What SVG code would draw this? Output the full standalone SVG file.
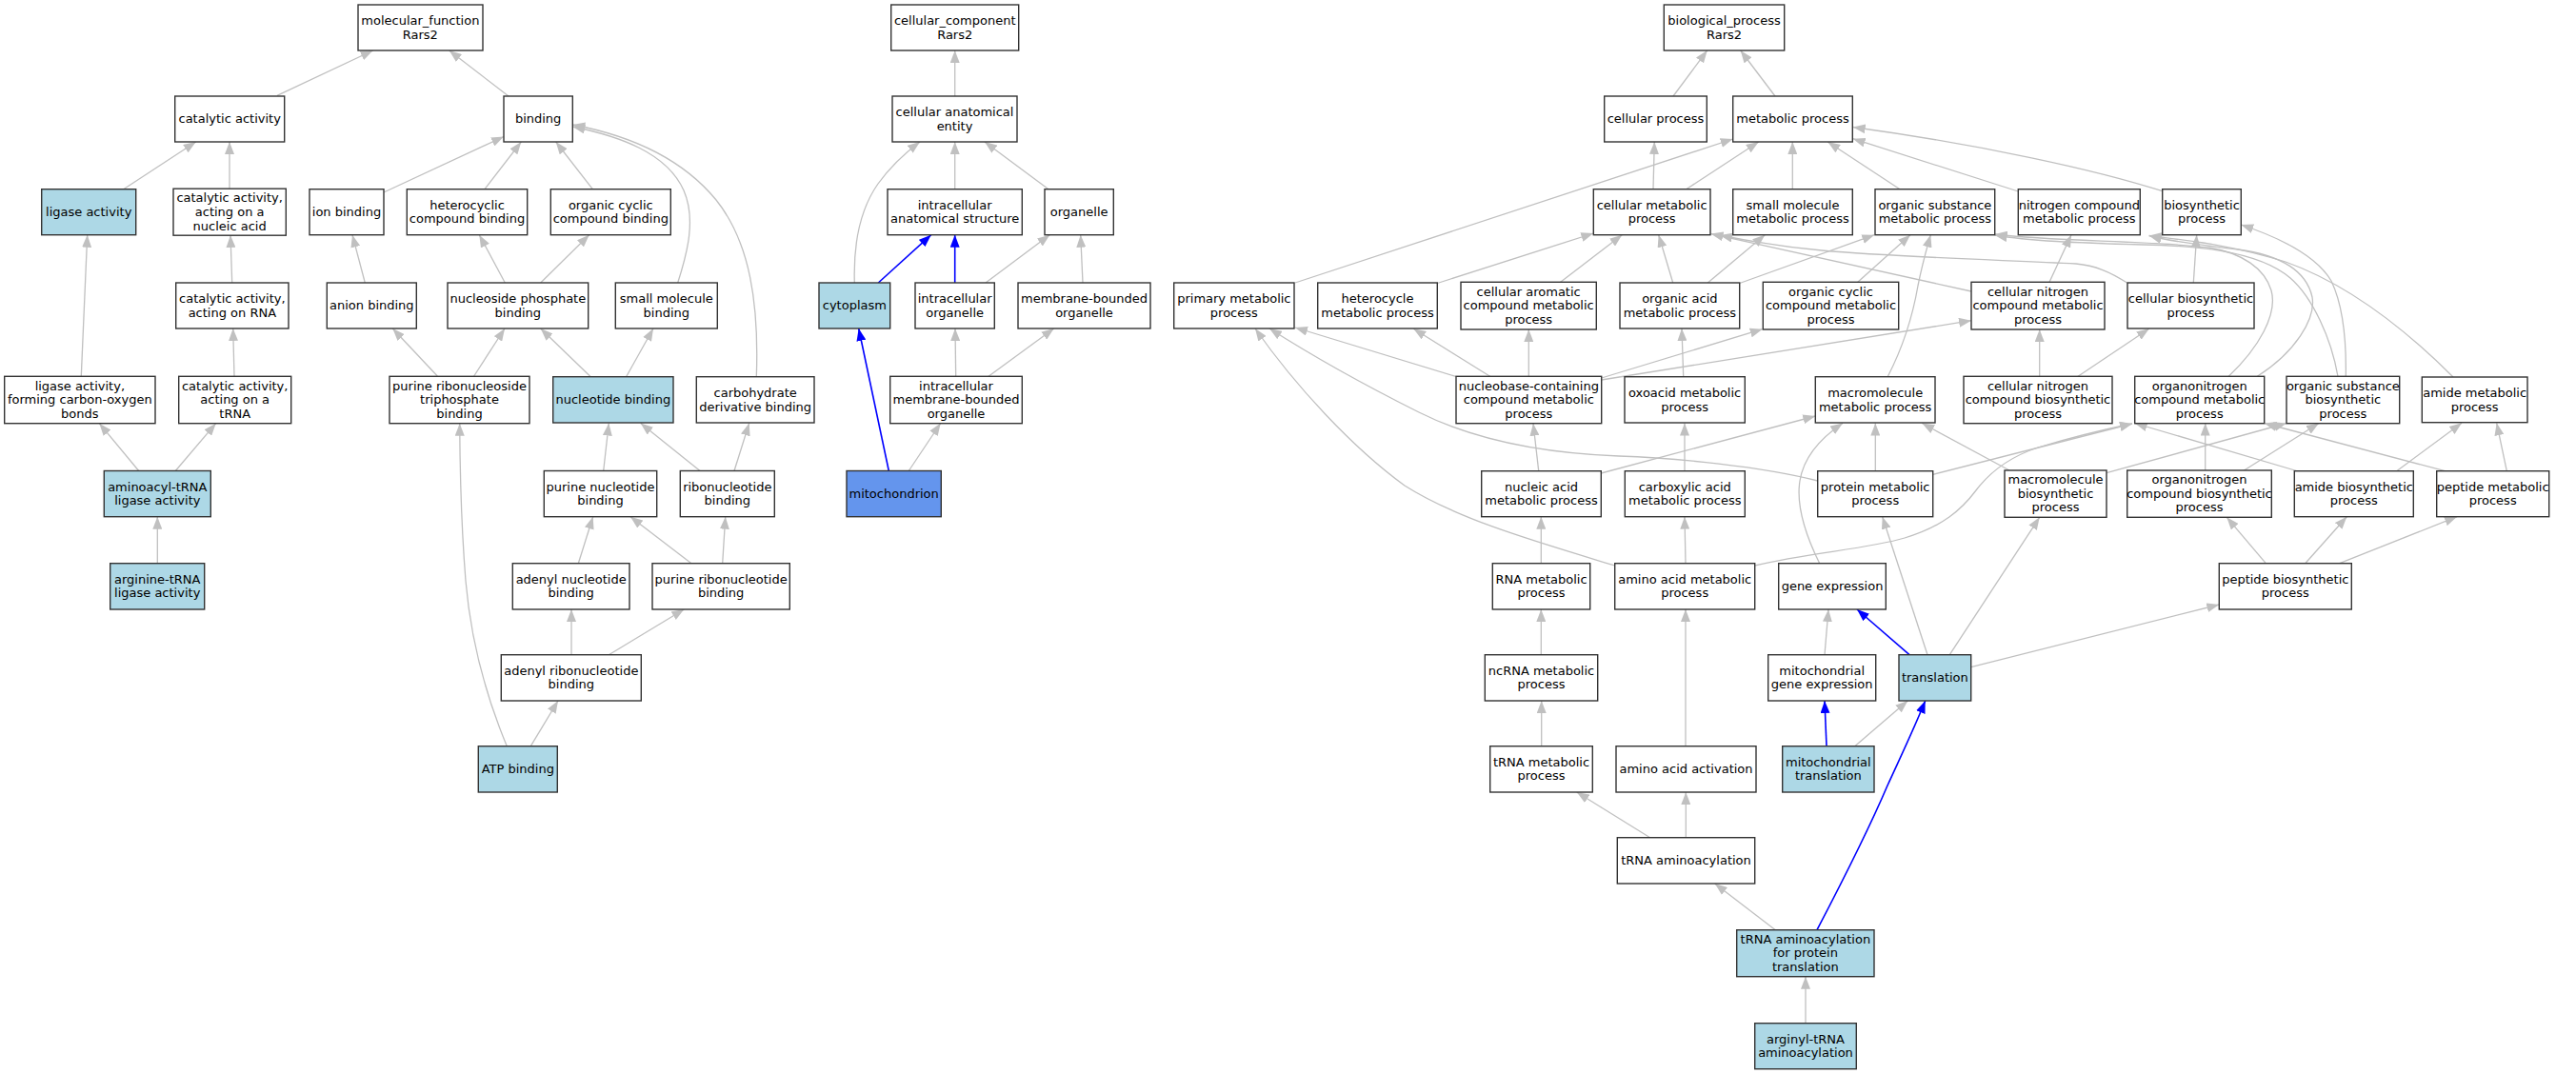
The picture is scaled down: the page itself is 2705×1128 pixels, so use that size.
<svg xmlns="http://www.w3.org/2000/svg" width="2705" height="1128" viewBox="0 0 2705 1128">
<style>
.bg{fill:#fff}
.n rect{fill:#fff;stroke:#333;stroke-width:1.4}
.b rect{fill:#add8e6}
.m rect{fill:#6495ed}
text{font-family:"DejaVu Sans","Liberation Sans",sans-serif;font-size:13px;text-anchor:middle;fill:#000}
.e path{fill:none;stroke:#c0c0c0;stroke-width:1.3;marker-end:url(#ag)}
.e path.bl{stroke:#0000ff;stroke-width:1.6;marker-end:url(#ab)}
</style>
<defs>
<marker id="ag" viewBox="0 0 13 10" refX="13" refY="5" markerWidth="13" markerHeight="10" markerUnits="userSpaceOnUse" orient="auto"><path d="M0,0 L13,5 L0,10 z" fill="#c0c0c0"/></marker>
<marker id="ab" viewBox="0 0 13 10" refX="13" refY="5" markerWidth="13" markerHeight="10" markerUnits="userSpaceOnUse" orient="auto"><path d="M0,0 L13,5 L0,10 z" fill="#0000ff"/></marker>
</defs>
<rect class="bg" x="0" y="0" width="2705" height="1128"/>
<g id="edges" class="e">
<path d="M291,100.3 L391.7,53"/>
<path d="M534,101 L471.7,53"/>
<path d="M129.7,198.7 L205.7,149"/>
<path d="M241,197.7 L241,149"/>
<path d="M403,202 L529,143.5"/>
<path d="M509,198.7 L547.3,149"/>
<path d="M622.3,198.7 L583.7,149"/>
<path d="M711.7,297 C722,265 731,230 718,200 C700,160 650,143 601.3,133"/>
<path d="M794.3,395.7 C797,320 788,255 752,210 C715,165 660,142 601.3,131"/>
<path d="M383.3,297 L370,246.7"/>
<path d="M243.7,297 L242,247"/>
<path d="M85.3,395 L91.7,246.7"/>
<path d="M246,395 L244.7,345"/>
<path d="M145.7,494.5 L104.3,444.7"/>
<path d="M184.3,494.5 L226.7,444.7"/>
<path d="M165.3,591.7 L165.3,542.7"/>
<path d="M530.3,297 L503.3,246.7"/>
<path d="M567.7,297 L618.7,246.7"/>
<path d="M459.3,395 L412.3,345"/>
<path d="M497.7,395 L530,345"/>
<path d="M620,395.5 L567.7,345"/>
<path d="M657.7,395.5 L686,345"/>
<path d="M633.7,494.5 L639.3,444.5"/>
<path d="M735,494.5 L672.7,444.5"/>
<path d="M771,494.5 L786.7,444.5"/>
<path d="M607.3,591.7 L622.7,542.7"/>
<path d="M726,591.7 L662,542.7"/>
<path d="M758.7,591.7 L761.7,542.7"/>
<path d="M600,687.7 L600,640"/>
<path d="M639.3,687.7 L718.3,640"/>
<path d="M557.3,783.7 L586,736"/>
<path d="M532.3,783.7 C512,735 495,680 489,610 C485,560 483,500 482.7,444.7"/>
<path d="M1002.7,101 L1002.7,53"/>
<path d="M1002.7,198.7 L1002.7,149"/>
<path d="M1101,198.7 L1034,149"/>
<path d="M897.3,297 C896,255 903,220 922,193 C935,175 950,161 966,149"/>
<path class="bl" d="M922.3,297 L977.7,246.7"/>
<path class="bl" d="M1002.7,297 L1002.7,246.7"/>
<path d="M1035,297 L1102.3,246.7"/>
<path d="M1137,297 L1134.7,246.7"/>
<path d="M1003.7,395.5 L1003,345"/>
<path d="M1037.7,395.5 L1106.7,345"/>
<path d="M954.3,494.5 L987.7,444.5"/>
<path class="bl" d="M933.3,494.5 L901.7,345"/>
<path d="M1757,101 L1792.7,53"/>
<path d="M1864,101 L1827.7,53"/>
<path d="M1736,198.7 L1737.3,149"/>
<path d="M1770.7,198.7 L1846.7,149"/>
<path d="M1882.3,198.7 L1882.3,149"/>
<path d="M1995,198.7 L1919.3,149"/>
<path d="M2119.3,201 L1945.7,145.7"/>
<path d="M2270.7,200.7 C2200,178 2080,152 1945.7,133.5"/>
<path d="M1360,297 L1819.7,146"/>
<path d="M1509.3,297.5 L1673.3,245"/>
<path d="M1637.7,297 L1703.3,246.7"/>
<path d="M1756.7,297 L1741.7,246.7"/>
<path d="M1793.3,297 L1853.3,246.7"/>
<path d="M1826.7,297.5 L1968.3,246.7"/>
<path d="M1950,297 L2006,246.7"/>
<path d="M2070,306 L1796.5,245.5"/>
<path d="M2151.7,297 L2175,246.7"/>
<path d="M2234,297.3 C2215,285 2200,279 2180,277 C2100,273 1990,270 1913,263 C1870,259 1835,253 1806,247"/>
<path d="M1529,395.5 L1360,344"/>
<path d="M1565,395.5 L1484.3,345.3"/>
<path d="M1605.3,395.5 L1605.3,346"/>
<path d="M1681.7,397 L1850.7,345.7"/>
<path d="M1681.7,399 L2070,336.7"/>
<path d="M1982.3,395.5 C1998,365 2008,335 2014,300 C2018,280 2022,265 2027.3,246.7"/>
<path d="M1908.7,505 C1850,490 1760,481 1700,479 C1620,476 1550,463 1490,433 C1440,408 1380,375 1333,345"/>
<path d="M1695.7,594 C1610,568 1530,545 1475,510 C1420,470 1360,405 1318,345"/>
<path d="M1615.7,494.5 L1610,444.7"/>
<path d="M1681.3,497 L1906.3,437"/>
<path d="M1618.3,591.7 L1618.3,542.7"/>
<path d="M1618.3,687.7 L1618.3,640"/>
<path d="M1618.7,783.7 L1618.7,736"/>
<path d="M1767.7,395.5 L1766,345"/>
<path d="M1769,494.5 L1769,444.5"/>
<path d="M1770,591.7 L1769,542.7"/>
<path d="M1770,783.7 L1770,640"/>
<path d="M1770.3,879.7 L1770.3,832"/>
<path d="M1732.7,879.7 L1655.7,832"/>
<path d="M1864.3,976.7 L1800.7,928"/>
<path class="bl" d="M1908,976.7 C1935,925 1962,872 1982,825 C1998,790 2010,765 2021.7,736"/>
<path d="M1896,1074.7 L1896,1025.7"/>
<path class="bl" d="M1918,783.7 L1916,736"/>
<path d="M1947.7,783.7 L2003.3,736"/>
<path class="bl" d="M2005,687.7 L1950,640"/>
<path d="M2024,687.7 L1976.7,542.7"/>
<path d="M2047.3,687.7 L2141.7,543.3"/>
<path d="M2069.7,700.7 L2330.3,635"/>
<path d="M1916,687.7 L1920,640"/>
<path d="M1910.7,591.7 C1895,560 1886,530 1890,505 C1894,480 1912,460 1935,444.5"/>
<path d="M1969.3,494.5 L1969.3,444.5"/>
<path d="M2110,494 L2018.3,444.5"/>
<path d="M2029.7,498.3 L2239,445"/>
<path d="M1842.7,594 C1900,580 1960,577 2000,565 C2040,553 2060,535 2075,515 C2090,495 2110,480 2140,470 C2180,458 2210,451 2239,445"/>
<path d="M2141.7,395.5 L2141.7,346"/>
<path d="M2181.7,395.5 L2256.7,345.3"/>
<path d="M2303.3,297 L2306.7,246.7"/>
<path d="M2463.3,395.5 C2464,355 2460,320 2448,295 C2432,268 2395,250 2353.3,236"/>
<path d="M2340,395.5 C2372,365 2392,330 2385,305 C2378,282 2355,266 2320,260 C2250,252 2160,254 2094.7,246"/>
<path d="M2370,395.5 C2410,370 2432,335 2428,312 C2422,285 2395,268 2350,262 C2310,257 2280,254 2256.7,247.5"/>
<path d="M2455,395.5 C2448,355 2428,312 2405,292 C2370,262 2300,258 2250,257 C2180,255 2130,253 2094.7,247"/>
<path d="M2576,396 C2530,350 2470,300 2400,275 C2340,256 2290,252 2256.7,247.5"/>
<path d="M2315.7,494.5 L2315.7,444.5"/>
<path d="M2355.7,494.5 L2435,444.5"/>
<path d="M2516.7,494.7 L2585,444.3"/>
<path d="M2420,497 L2241.7,444.5"/>
<path d="M2575,496.7 L2377.7,444.5"/>
<path d="M2632.3,494.7 L2621.7,444.3"/>
<path d="M2212,496.7 L2401,444.5"/>
<path d="M2379.3,591.7 L2338.3,543.3"/>
<path d="M2420.7,591.7 L2464.3,542.7"/>
<path d="M2456.7,591.7 L2580,542.7"/>
</g>
<g id="mf_root" class="n"><rect x="376" y="5" width="131" height="48"/><text x="441.35" y="25.9">molecular_function<tspan x="441.35" dy="14.67">Rars2</tspan></text></g>
<g id="catalytic" class="n"><rect x="183.7" y="101" width="115" height="48"/><text x="241.2" y="129.3">catalytic activity</text></g>
<g id="binding" class="n"><rect x="529" y="101" width="72.3" height="48"/><text x="565.15" y="129.3">binding</text></g>
<g id="ligase" class="n b"><rect x="43.7" y="198.7" width="99" height="48"/><text x="93.2" y="227">ligase activity</text></g>
<g id="cat_na" class="n"><rect x="182" y="198.2" width="118.3" height="49"/><text x="241.15" y="212.2">catalytic activity,<tspan x="241.15" dy="14.67">acting on a</tspan><tspan x="241.15" dy="14.67">nucleic acid</tspan></text></g>
<g id="ion" class="n"><rect x="325" y="198.7" width="78" height="48"/><text x="364" y="227">ion binding</text></g>
<g id="hetero_b" class="n"><rect x="427.3" y="198.7" width="126.4" height="48"/><text x="490.5" y="219.6">heterocyclic<tspan x="490.5" dy="14.67">compound binding</tspan></text></g>
<g id="orgcyc_b" class="n"><rect x="578.3" y="198.7" width="126" height="48"/><text x="641.3" y="219.6">organic cyclic<tspan x="641.3" dy="14.67">compound binding</tspan></text></g>
<g id="cat_rna" class="n"><rect x="184.7" y="297" width="118.3" height="48"/><text x="243.85" y="317.9">catalytic activity,<tspan x="243.85" dy="14.67">acting on RNA</tspan></text></g>
<g id="anion" class="n"><rect x="343.3" y="297" width="94" height="48"/><text x="390.3" y="325.3">anion binding</text></g>
<g id="nsp" class="n"><rect x="470" y="297" width="147.7" height="48"/><text x="543.85" y="317.9">nucleoside phosphate<tspan x="543.85" dy="14.67">binding</tspan></text></g>
<g id="smb" class="n"><rect x="646.3" y="297" width="107" height="48"/><text x="699.8" y="317.9">small molecule<tspan x="699.8" dy="14.67">binding</tspan></text></g>
<g id="lig_co" class="n"><rect x="4.7" y="395.3" width="158.3" height="49.4"/><text x="83.85" y="409.5">ligase activity,<tspan x="83.85" dy="14.67">forming carbon-oxygen</tspan><tspan x="83.85" dy="14.67">bonds</tspan></text></g>
<g id="cat_trna" class="n"><rect x="187.7" y="395.3" width="118" height="49.4"/><text x="246.7" y="409.5">catalytic activity,<tspan x="246.7" dy="14.67">acting on a</tspan><tspan x="246.7" dy="14.67">tRNA</tspan></text></g>
<g id="prtp" class="n"><rect x="409" y="395.3" width="147" height="49.4"/><text x="482.5" y="409.5">purine ribonucleoside<tspan x="482.5" dy="14.67">triphosphate</tspan><tspan x="482.5" dy="14.67">binding</tspan></text></g>
<g id="nucb" class="n b"><rect x="580.7" y="395.7" width="126.3" height="48.3"/><text x="643.85" y="424.3">nucleotide binding</text></g>
<g id="carb" class="n"><rect x="731.3" y="395.7" width="123.7" height="48.3"/><text x="793.15" y="416.9">carbohydrate<tspan x="793.15" dy="14.67">derivative binding</tspan></text></g>
<g id="aatrna" class="n b"><rect x="109.3" y="494.5" width="112" height="48.2"/><text x="165.3" y="515.5">aminoacyl-tRNA<tspan x="165.3" dy="14.67">ligase activity</tspan></text></g>
<g id="pnb" class="n"><rect x="571.3" y="494.5" width="118.4" height="48.2"/><text x="630.5" y="515.5">purine nucleotide<tspan x="630.5" dy="14.67">binding</tspan></text></g>
<g id="rnb" class="n"><rect x="714.3" y="494.5" width="99" height="48.2"/><text x="763.8" y="515.5">ribonucleotide<tspan x="763.8" dy="14.67">binding</tspan></text></g>
<g id="argtrna" class="n b"><rect x="115.7" y="591.7" width="99" height="48.3"/><text x="165.2" y="612.7">arginine-tRNA<tspan x="165.2" dy="14.67">ligase activity</tspan></text></g>
<g id="anb" class="n"><rect x="538.3" y="591.7" width="122.7" height="48.3"/><text x="599.65" y="612.7">adenyl nucleotide<tspan x="599.65" dy="14.67">binding</tspan></text></g>
<g id="prnb" class="n"><rect x="685" y="591.7" width="144.3" height="48.3"/><text x="757.15" y="612.7">purine ribonucleotide<tspan x="757.15" dy="14.67">binding</tspan></text></g>
<g id="arnb" class="n"><rect x="526.3" y="687.7" width="147" height="48.3"/><text x="599.8" y="708.7">adenyl ribonucleotide<tspan x="599.8" dy="14.67">binding</tspan></text></g>
<g id="atp" class="n b"><rect x="502.3" y="783.7" width="83" height="48.3"/><text x="543.8" y="812.1">ATP binding</text></g>
<g id="cc_root" class="n"><rect x="935.7" y="5" width="134" height="48"/><text x="1002.7" y="25.9">cellular_component<tspan x="1002.7" dy="14.67">Rars2</tspan></text></g>
<g id="cae" class="n"><rect x="937" y="101" width="131" height="48"/><text x="1002.5" y="121.9">cellular anatomical<tspan x="1002.5" dy="14.67">entity</tspan></text></g>
<g id="ias" class="n"><rect x="932" y="198.7" width="141.3" height="48"/><text x="1002.65" y="219.6">intracellular<tspan x="1002.65" dy="14.67">anatomical structure</tspan></text></g>
<g id="organelle" class="n"><rect x="1097" y="198.7" width="72.3" height="48"/><text x="1133.15" y="227">organelle</text></g>
<g id="cytoplasm" class="n b"><rect x="860" y="297" width="74.7" height="48"/><text x="897.35" y="325.3">cytoplasm</text></g>
<g id="io" class="n"><rect x="961" y="297" width="83.3" height="48"/><text x="1002.65" y="317.9">intracellular<tspan x="1002.65" dy="14.67">organelle</tspan></text></g>
<g id="mbo" class="n"><rect x="1069" y="297" width="139" height="48"/><text x="1138.5" y="317.9">membrane-bounded<tspan x="1138.5" dy="14.67">organelle</tspan></text></g>
<g id="imbo" class="n"><rect x="934.7" y="395.3" width="138.6" height="49.4"/><text x="1004" y="409.5">intracellular<tspan x="1004" dy="14.67">membrane-bounded</tspan><tspan x="1004" dy="14.67">organelle</tspan></text></g>
<g id="mito" class="n m"><rect x="889" y="494.5" width="99.3" height="48.2"/><text x="938.65" y="522.9">mitochondrion</text></g>
<g id="bp_root" class="n"><rect x="1747.3" y="5" width="126.4" height="48"/><text x="1810.5" y="25.9">biological_process<tspan x="1810.5" dy="14.67">Rars2</tspan></text></g>
<g id="cp" class="n"><rect x="1684.7" y="101" width="107.6" height="48"/><text x="1738.5" y="129.3">cellular process</text></g>
<g id="mp" class="n"><rect x="1819.7" y="101" width="125.6" height="48"/><text x="1882.5" y="129.3">metabolic process</text></g>
<g id="cmp" class="n"><rect x="1673.3" y="198.7" width="122.7" height="48"/><text x="1734.65" y="219.6">cellular metabolic<tspan x="1734.65" dy="14.67">process</tspan></text></g>
<g id="smmp" class="n"><rect x="1819.7" y="198.7" width="125.6" height="48"/><text x="1882.5" y="219.6">small molecule<tspan x="1882.5" dy="14.67">metabolic process</tspan></text></g>
<g id="osmp" class="n"><rect x="1969" y="198.7" width="125.7" height="48"/><text x="2031.85" y="219.6">organic substance<tspan x="2031.85" dy="14.67">metabolic process</tspan></text></g>
<g id="ncmp" class="n"><rect x="2119.3" y="198.7" width="128" height="48"/><text x="2183.3" y="219.6">nitrogen compound<tspan x="2183.3" dy="14.67">metabolic process</tspan></text></g>
<g id="bsp" class="n"><rect x="2270.7" y="198.7" width="82.6" height="48"/><text x="2312" y="219.6">biosynthetic<tspan x="2312" dy="14.67">process</tspan></text></g>
<g id="pmp" class="n"><rect x="1232.7" y="297" width="126.3" height="48"/><text x="1295.85" y="317.9">primary metabolic<tspan x="1295.85" dy="14.67">process</tspan></text></g>
<g id="hmp" class="n"><rect x="1383.7" y="297" width="125.6" height="48"/><text x="1446.5" y="317.9">heterocycle<tspan x="1446.5" dy="14.67">metabolic process</tspan></text></g>
<g id="cacmp" class="n"><rect x="1534" y="296.3" width="142.3" height="49.7"/><text x="1605.15" y="310.5">cellular aromatic<tspan x="1605.15" dy="14.67">compound metabolic</tspan><tspan x="1605.15" dy="14.67">process</tspan></text></g>
<g id="oamp" class="n"><rect x="1701" y="297" width="125.7" height="48"/><text x="1763.85" y="317.9">organic acid<tspan x="1763.85" dy="14.67">metabolic process</tspan></text></g>
<g id="occmp" class="n"><rect x="1851.3" y="296.3" width="142.4" height="49.7"/><text x="1922.5" y="310.5">organic cyclic<tspan x="1922.5" dy="14.67">compound metabolic</tspan><tspan x="1922.5" dy="14.67">process</tspan></text></g>
<g id="cncmp" class="n"><rect x="2070" y="296.3" width="140" height="49.7"/><text x="2140" y="310.5">cellular nitrogen<tspan x="2140" dy="14.67">compound metabolic</tspan><tspan x="2140" dy="14.67">process</tspan></text></g>
<g id="cbp" class="n"><rect x="2234" y="297" width="133" height="48"/><text x="2300.5" y="317.9">cellular biosynthetic<tspan x="2300.5" dy="14.67">process</tspan></text></g>
<g id="nbcmp" class="n"><rect x="1529" y="395.3" width="152.7" height="49.4"/><text x="1605.35" y="409.5">nucleobase-containing<tspan x="1605.35" dy="14.67">compound metabolic</tspan><tspan x="1605.35" dy="14.67">process</tspan></text></g>
<g id="oxmp" class="n"><rect x="1706" y="395.7" width="126.3" height="48.3"/><text x="1769.15" y="416.9">oxoacid metabolic<tspan x="1769.15" dy="14.67">process</tspan></text></g>
<g id="mmp" class="n"><rect x="1906.3" y="395.7" width="125.7" height="48.3"/><text x="1969.15" y="416.9">macromolecule<tspan x="1969.15" dy="14.67">metabolic process</tspan></text></g>
<g id="cncbp" class="n"><rect x="2062" y="395.3" width="156" height="49.4"/><text x="2140" y="409.5">cellular nitrogen<tspan x="2140" dy="14.67">compound biosynthetic</tspan><tspan x="2140" dy="14.67">process</tspan></text></g>
<g id="oncmp" class="n"><rect x="2241.7" y="395.3" width="136" height="49.4"/><text x="2309.7" y="409.5">organonitrogen<tspan x="2309.7" dy="14.67">compound metabolic</tspan><tspan x="2309.7" dy="14.67">process</tspan></text></g>
<g id="osbp" class="n"><rect x="2401" y="395.3" width="118.7" height="49.4"/><text x="2460.35" y="409.5">organic substance<tspan x="2460.35" dy="14.67">biosynthetic</tspan><tspan x="2460.35" dy="14.67">process</tspan></text></g>
<g id="amp" class="n"><rect x="2543.3" y="396" width="110.7" height="47.7"/><text x="2598.65" y="416.9">amide metabolic<tspan x="2598.65" dy="14.67">process</tspan></text></g>
<g id="namp" class="n"><rect x="1555.7" y="494.7" width="125.6" height="48"/><text x="1618.5" y="515.5">nucleic acid<tspan x="1618.5" dy="14.67">metabolic process</tspan></text></g>
<g id="camp" class="n"><rect x="1706.3" y="494.7" width="126" height="48"/><text x="1769.3" y="515.5">carboxylic acid<tspan x="1769.3" dy="14.67">metabolic process</tspan></text></g>
<g id="prmp" class="n"><rect x="1908.7" y="494.7" width="121" height="48"/><text x="1969.2" y="515.5">protein metabolic<tspan x="1969.2" dy="14.67">process</tspan></text></g>
<g id="mbp" class="n"><rect x="2105" y="494" width="107" height="49.3"/><text x="2158.5" y="508.1">macromolecule<tspan x="2158.5" dy="14.67">biosynthetic</tspan><tspan x="2158.5" dy="14.67">process</tspan></text></g>
<g id="oncbp" class="n"><rect x="2233.7" y="494" width="151.6" height="49.3"/><text x="2309.5" y="508.1">organonitrogen<tspan x="2309.5" dy="14.67">compound biosynthetic</tspan><tspan x="2309.5" dy="14.67">process</tspan></text></g>
<g id="abp" class="n"><rect x="2409.3" y="494.7" width="125" height="48"/><text x="2471.8" y="515.5">amide biosynthetic<tspan x="2471.8" dy="14.67">process</tspan></text></g>
<g id="pepmp" class="n"><rect x="2558.7" y="494.7" width="118" height="48"/><text x="2617.7" y="515.5">peptide metabolic<tspan x="2617.7" dy="14.67">process</tspan></text></g>
<g id="rnamp" class="n"><rect x="1567.3" y="591.7" width="102.4" height="48.3"/><text x="1618.5" y="612.7">RNA metabolic<tspan x="1618.5" dy="14.67">process</tspan></text></g>
<g id="aamp" class="n"><rect x="1695.7" y="591.7" width="147" height="48.3"/><text x="1769.2" y="612.7">amino acid metabolic<tspan x="1769.2" dy="14.67">process</tspan></text></g>
<g id="ge" class="n"><rect x="1867.7" y="591.7" width="112.6" height="48.3"/><text x="1924" y="620.1">gene expression</text></g>
<g id="pepbp" class="n"><rect x="2330.3" y="591.7" width="139" height="48.3"/><text x="2399.8" y="612.7">peptide biosynthetic<tspan x="2399.8" dy="14.67">process</tspan></text></g>
<g id="ncrna" class="n"><rect x="1559.3" y="687.7" width="118.4" height="48.3"/><text x="1618.5" y="708.7">ncRNA metabolic<tspan x="1618.5" dy="14.67">process</tspan></text></g>
<g id="mge" class="n"><rect x="1856.7" y="687.7" width="113" height="48.3"/><text x="1913.2" y="708.7">mitochondrial<tspan x="1913.2" dy="14.67">gene expression</tspan></text></g>
<g id="trans" class="n b"><rect x="1994" y="687.7" width="75.7" height="48.3"/><text x="2031.85" y="716.1">translation</text></g>
<g id="trnamp" class="n"><rect x="1564.7" y="783.7" width="107.6" height="48.3"/><text x="1618.5" y="804.7">tRNA metabolic<tspan x="1618.5" dy="14.67">process</tspan></text></g>
<g id="aaact" class="n"><rect x="1697" y="783.7" width="147" height="48.3"/><text x="1770.5" y="812.1">amino acid activation</text></g>
<g id="mt" class="n b"><rect x="1871.7" y="783.7" width="96.3" height="48.3"/><text x="1919.85" y="804.7">mitochondrial<tspan x="1919.85" dy="14.67">translation</tspan></text></g>
<g id="trnaa" class="n"><rect x="1698.3" y="879.7" width="144.4" height="48.3"/><text x="1770.5" y="908.1">tRNA aminoacylation</text></g>
<g id="trnaapt" class="n b"><rect x="1823.7" y="976.7" width="144.3" height="49"/><text x="1895.85" y="990.7">tRNA aminoacylation<tspan x="1895.85" dy="14.67">for protein</tspan><tspan x="1895.85" dy="14.67">translation</tspan></text></g>
<g id="argtrnaa" class="n b"><rect x="1842.7" y="1074.7" width="106.6" height="48"/><text x="1896" y="1095.6">arginyl-tRNA<tspan x="1896" dy="14.67">aminoacylation</tspan></text></g>
</svg>
